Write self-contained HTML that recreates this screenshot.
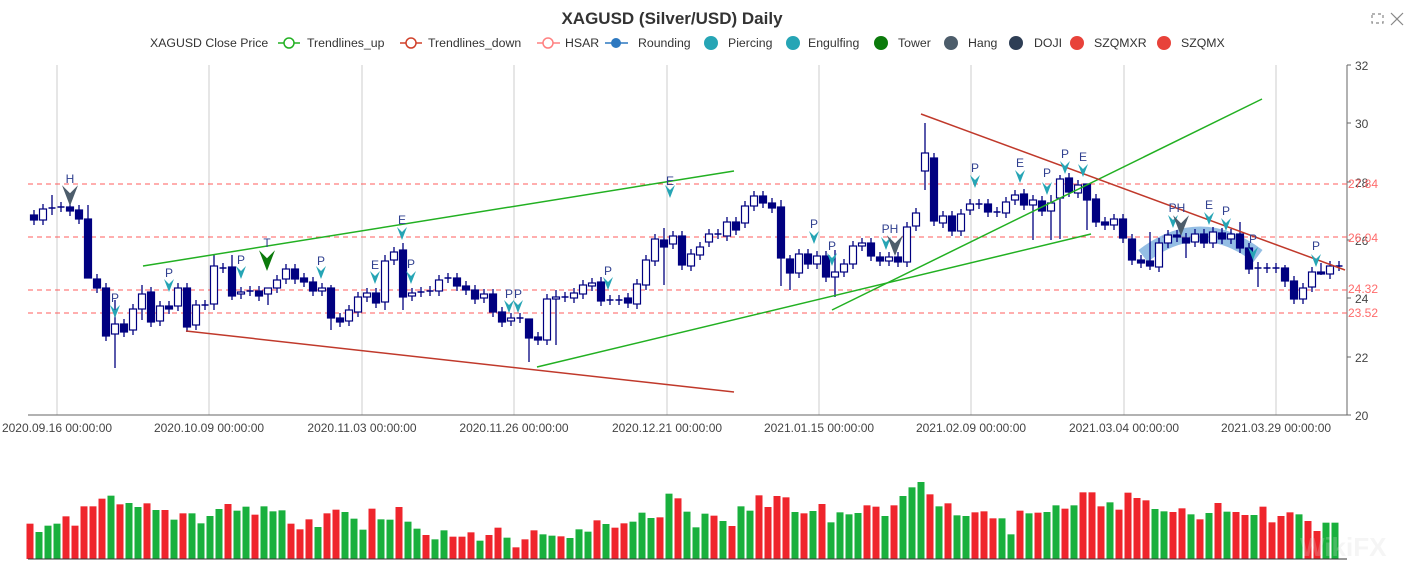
<!DOCTYPE html>
<html><head><meta charset="utf-8">
<style>
html,body{margin:0;padding:0;background:#fff;width:1404px;height:578px;overflow:hidden}
svg{display:block;font-family:"Liberation Sans",sans-serif}
</style></head><body>
<svg id="s" width="1404" height="578" viewBox="0 0 1404 578" xmlns="http://www.w3.org/2000/svg">
<text x="672" y="24" text-anchor="middle" font-size="17" font-weight="bold" fill="#333">XAGUSD (Silver/USD) Daily</text>
<g fill="none" stroke="#888" stroke-width="1.2">
<rect x="1372" y="14" width="11" height="9" stroke-dasharray="3,3"/>
<path d="M1391 13 l12 12 M1403 13 l-12 12"/>
</g>
<g font-size="12.3" fill="#333">
<text x="150" y="47">XAGUSD Close Price</text>
<line x1="278" y1="43" x2="300" y2="43" stroke="#22b022" stroke-width="1.5"/><circle cx="289" cy="43" r="5" fill="#fff" stroke="#22b022" stroke-width="1.5"/>
<text x="307" y="47">Trendlines_up</text>
<line x1="400" y1="43" x2="422" y2="43" stroke="#d0402a" stroke-width="1.5"/><circle cx="411" cy="43" r="5" fill="#fff" stroke="#d0402a" stroke-width="1.5"/>
<text x="428" y="47">Trendlines_down</text>
<line x1="537" y1="43" x2="560" y2="43" stroke="#ff8080" stroke-width="1.5"/><circle cx="548" cy="43" r="5" fill="#fff" stroke="#ff8080" stroke-width="1.5"/>
<text x="565" y="47">HSAR</text>
<line x1="605" y1="43" x2="628" y2="43" stroke="#2d78c0" stroke-width="1.5"/><circle cx="616" cy="43" r="5" fill="#2d78c0"/>
<text x="638" y="47">Rounding</text>
<circle cx="711" cy="43" r="7" fill="#26a5b5"/><text x="728" y="47">Piercing</text>
<circle cx="793" cy="43" r="7" fill="#26a5b5"/><text x="808" y="47">Engulfing</text>
<circle cx="881" cy="43" r="7" fill="#0b7a0b"/><text x="898" y="47">Tower</text>
<circle cx="951" cy="43" r="7" fill="#4d5d6b"/><text x="968" y="47">Hang</text>
<circle cx="1016" cy="43" r="7" fill="#2e3e55"/><text x="1034" y="47">DOJI</text>
<circle cx="1077" cy="43" r="7" fill="#e8423a"/><text x="1094" y="47">SZQMXR</text>
<circle cx="1164" cy="43" r="7" fill="#e8423a"/><text x="1181" y="47">SZQMX</text>
</g>
<g stroke="#ccc" stroke-width="1">
<line x1="57" y1="65" x2="57" y2="415"/><line x1="209" y1="65" x2="209" y2="415"/><line x1="362" y1="65" x2="362" y2="415"/><line x1="514" y1="65" x2="514" y2="415"/><line x1="667" y1="65" x2="667" y2="415"/><line x1="819" y1="65" x2="819" y2="415"/><line x1="971" y1="65" x2="971" y2="415"/><line x1="1124" y1="65" x2="1124" y2="415"/><line x1="1276" y1="65" x2="1276" y2="415"/>
</g>
<line x1="28" y1="415" x2="1347" y2="415" stroke="#666"/>
<line x1="1347" y1="65" x2="1347" y2="415" stroke="#666"/>
<g stroke="#666"><line x1="1347" y1="65" x2="1351" y2="65"/><line x1="1347" y1="123" x2="1351" y2="123"/><line x1="1347" y1="182" x2="1351" y2="182"/><line x1="1347" y1="240" x2="1351" y2="240"/><line x1="1347" y1="298" x2="1351" y2="298"/><line x1="1347" y1="357" x2="1351" y2="357"/><line x1="1347" y1="415" x2="1351" y2="415"/></g>
<g font-size="12" fill="#444">
<text x="1355" y="70">32</text><text x="1355" y="128">30</text><text x="1355" y="187">28</text><text x="1355" y="245">26</text><text x="1355" y="303">24</text><text x="1355" y="362">22</text><text x="1355" y="420">20</text>
</g>
<g font-size="12" fill="#444" text-anchor="middle">
<text x="57" y="432">2020.09.16 00:00:00</text><text x="209" y="432">2020.10.09 00:00:00</text><text x="362" y="432">2020.11.03 00:00:00</text><text x="514" y="432">2020.11.26 00:00:00</text><text x="667" y="432">2020.12.21 00:00:00</text><text x="819" y="432">2021.01.15 00:00:00</text><text x="971" y="432">2021.02.09 00:00:00</text><text x="1124" y="432">2021.03.04 00:00:00</text><text x="1276" y="432">2021.03.29 00:00:00</text>
</g>
<g stroke="#ff5c5c" stroke-width="1" stroke-dasharray="5,4">
<line x1="28" y1="184" x2="1347" y2="184"/><line x1="28" y1="237" x2="1347" y2="237"/><line x1="28" y1="290" x2="1347" y2="290"/><line x1="28" y1="313" x2="1347" y2="313"/>
</g>
<g font-size="12" fill="#ff6b6b">
<text x="1348" y="188">27.84</text><text x="1348" y="242">26.04</text><text x="1348" y="293">24.32</text><text x="1348" y="317">23.52</text>
</g>
<path d="M1143 256 Q1200 212 1258 256" fill="none" stroke="rgba(91,155,213,0.65)" stroke-width="15"/>
<g id="candles"></g>
<g stroke-width="1.5" fill="none">
<line x1="143" y1="266" x2="734" y2="171" stroke="#22b022"/>
<line x1="832" y1="310" x2="1262" y2="99" stroke="#22b022"/>
<line x1="537" y1="367" x2="1091" y2="234" stroke="#22b022"/>
<line x1="186" y1="331" x2="734" y2="392" stroke="#c0392b"/>
<line x1="921" y1="114" x2="1345" y2="270" stroke="#c0392b"/>
</g>
<g id="marks"></g>
<g font-size="12" fill="#2f3f8f" text-anchor="middle">
<text x="70" y="183">H</text><text x="115" y="302">P</text><text x="169" y="277">P</text><text x="241" y="264">P</text><text x="267" y="247">T</text><text x="321" y="265">P</text><text x="375" y="269">E</text><text x="402" y="224">E</text><text x="411" y="268">P</text><text x="509" y="298">P</text><text x="518" y="298">P</text><text x="608" y="275">P</text><text x="670" y="185">E</text><text x="814" y="228">P</text><text x="832" y="250">P</text><text x="890" y="233">PH</text><text x="975" y="172">P</text><text x="1020" y="167">E</text><text x="1047" y="177">P</text><text x="1065" y="158">P</text><text x="1083" y="161">E</text><text x="1177" y="212">PH</text><text x="1209" y="209">E</text><text x="1226" y="215">P</text><text x="1253" y="243">P</text><text x="1316" y="250">P</text>
</g>
<g id="vol"></g>
<line x1="28" y1="559" x2="1347" y2="559" stroke="#333"/>
<text x="1300" y="556" font-size="26" font-weight="bold" fill="rgba(215,215,215,0.25)">WikiFX</text>
</svg>
<script>
var NS="http://www.w3.org/2000/svg";
function el(p,t,a){var e=document.createElementNS(NS,t);for(var k in a)e.setAttribute(k,a[k]);p.appendChild(e);return e;}
var C="215,220,F;209,220,W;208,208,D;207,207,D;207,211,F;210,219,F;219,278,F;279,288,F;288,336,F;324,334,W;324,332,F;309,330,W;294,309,W;292,322,F;306,321,W;306,309,F;288,306,W;288,327,F;305,325,W;305,305,D;266,304,W;268,268,D;267,296,F;292,294,W;291,291,D;291,296,F;288,294,W;280,288,W;269,279,W;269,279,F;278,282,F;282,291,F;288,291,W;288,318,F;318,322,F;310,321,W;297,312,W;293,297,W;293,303,F;261,302,W;252,260,W;250,297,F;293,296,W;292,292,D;291,291,D;280,291,W;278,278,D;278,286,F;286,290,F;290,299,F;294,298,W;294,312,F;312,322,F;318,321,W;318,318,D;319,338,F;337,340,F;299,340,W;297,299,W;297,297,D;293,298,W;285,294,W;283,286,W;282,301,F;300,300,D;300,300,D;298,303,F;284,304,W;260,285,W;239,261,W;240,247,F;236,244,W;236,265,F;254,266,W;247,255,W;234,242,W;234,234,D;222,236,W;222,230,F;206,223,W;196,206,W;196,203,F;203,208,F;207,258,F;259,273,F;254,273,W;254,264,F;256,264,W;256,277,F;272,277,W;264,272,W;246,264,W;243,246,W;243,256,F;257,261,F;257,261,W;257,262,F;227,262,W;213,226,W;153,171,W;158,221,F;216,223,W;216,231,F;214,231,W;204,210,W;204,204,D;204,212,F;212,212,D;202,213,W;195,200,W;194,205,F;200,205,W;201,211,F;203,211,W;179,198,W;178,192,F;185,193,W;184,200,F;199,222,F;222,225,F;219,225,W;219,238,F;239,260,F;260,263,F;261,266,F;243,267,W;235,243,W;235,237,F;238,243,F;234,242,W;234,243,F;232,243,W;233,239,F;234,239,W;234,248,F;248,269,F;268,268,D;268,268,D;268,268,D;268,281,F;281,299,F;288,299,W;272,287,W;272,273,F;266,274,W;266,266,D".split(";");
var wick={9:[300,368],2:[195,215],6:[205,225],12:[285,320],20:[255,310],22:[255,300],26:[288,305],33:[285,330],39:[255,310],41:[243,310],55:[330,362],58:[290,345],70:[228,285],83:[200,286],84:[255,290],89:[250,297],99:[123,190],111:[195,240],113:[195,240],114:[175,239],117:[185,230],124:[232,270],128:[233,258],134:[222,253],136:[262,287],139:[265,287],143:[263,275]};
var g=document.getElementById("candles");
C.forEach(function(s,i){var p=s.split(","),t=+p[0],b=+p[1],x=34+9*i;var w=wick[i]||[t-5,b+5];
el(g,"line",{x1:x,x2:x,y1:w[0],y2:w[1],stroke:"#000080","stroke-width":1.3});
if(p[2]=="D"){el(g,"line",{x1:x-3.5,x2:x+3.5,y1:t,y2:t,stroke:"#000080","stroke-width":1.5});}
else el(g,"rect",{x:x-3.5,y:t,width:7,height:Math.max(b-t,2),fill:p[2]=="F"?"#000080":"#fff",stroke:"#000080","stroke-width":1.2});});
var m=document.getElementById("marks");
function arr(x,y,c,s){el(m,"path",{d:"M"+(x-5*s)+" "+(y-13*s)+" L"+x+" "+(y-8*s)+" L"+(x+5*s)+" "+(y-13*s)+" L"+x+" "+y+" Z",fill:c});}
var T="#26a5b5";
[[115,318],[169,292],[241,279],[321,279],[375,284],[402,240],[411,284],[509,313],[518,313],[608,290],[670,198],[814,244],[832,266],[886,250],[975,188],[1020,183],[1047,195],[1065,174],[1083,177],[1173,228],[1209,225],[1226,231],[1253,260],[1316,267]].forEach(function(a){arr(a[0],a[1],T,1);});
arr(70,206,"#4d5d6b",1.6);arr(895,256,"#4d5d6b",1.6);arr(1181,236,"#4d5d6b",1.6);arr(267,271,"#0b7a0b",1.6);
var V="R125,G150,G131,G125,R103,R131,R73,R73,R50,G41,R67,G63,G75,R64,G84,R84,G113,R94,G94,G124,G102,G81,R66,G86,G74,R98,G73,G88,G85,R125,R142,R112,G135,R94,R83,G90,G110,G143,R80,G112,G113,R75,G119,G140,R159,G172,G145,R164,R164,R151,G176,R159,R137,G167,R196,R172,R145,G157,G161,R163,G168,G142,G149,R115,G126,R137,R124,G119,G92,G108,R106,G35,R49,G89,G136,G95,R101,G117,R132,G73,G86,R40,R75,R42,R46,G90,R94,G87,R66,G121,G91,G97,G93,R70,R74,G102,R70,G42,G16,G0,R37,G73,R64,G100,G102,R91,R88,R109,G109,G157,R86,G94,R92,G90,G70,R80,G70,R31,R31,R73,G61,R83,R32,R48,R55,G81,G88,R90,R79,G97,R112,G93,R63,G89,R90,R99,G99,R74,R121,R102,R91,G97,R117,R147,G122,G122".split(",");
var vg=document.getElementById("vol");
V.forEach(function(s,i){var top=482+(+s.slice(1))/3,x=30+9*i;el(vg,"rect",{x:x-3.5,y:top,width:7,height:559-top,fill:s[0]=="R"?"#ef252c":"#19b03d"});});
</script>
</body></html>
